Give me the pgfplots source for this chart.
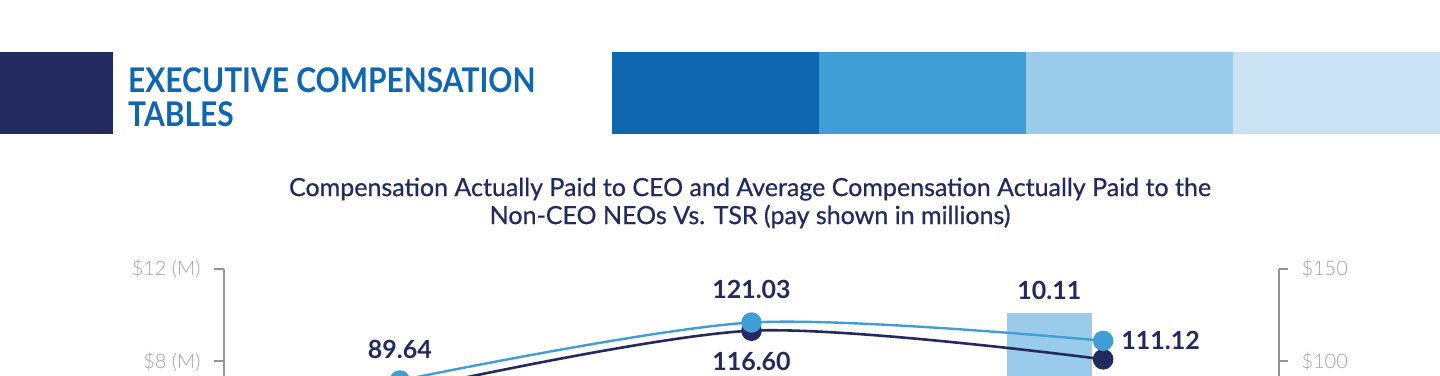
\documentclass[border=0pt]{standalone}
\usepackage{pgfplots}
\pgfplotsset{compat=1.18}
\usepackage{fontspec}
\setmainfont{Lato}
\newfontfamily\latolight{Lato Light}
\newfontfamily\hdrfont[FakeStretch=0.88]{Lato}
\newfontfamily\titlefont[FakeBold=0.6]{Lato}
\definecolor{navy}{HTML}{232A5E}
\definecolor{hdrblue}{HTML}{1067B0}
\definecolor{bA}{HTML}{0F67B0}
\definecolor{bB}{HTML}{419DD6}
\definecolor{bC}{HTML}{9ACBEB}
\definecolor{bD}{HTML}{CBE2F5}
\definecolor{axgray}{HTML}{939393}
\definecolor{tickgray}{HTML}{A3A3A3}
\begin{document}
\begin{tikzpicture}[x=1pt,y=1pt]
\path[use as bounding box] (0pt,0pt) rectangle (1440pt,375pt);
\clip (0pt,0pt) rectangle (1440pt,375pt);
\fill[white] (0pt,0pt) rectangle (1440pt,375pt);
% header band
\fill[navy] (0pt,323pt) rectangle (113pt,241pt);
\fill[bA] (612pt,323pt) rectangle (819pt,241pt);
\fill[bB] (819pt,323pt) rectangle (1026pt,241pt);
\fill[bC] (1026pt,323pt) rectangle (1233pt,241pt);
\fill[bD] (1233pt,323pt) rectangle (1440pt,241pt);
\node[anchor=base west, inner sep=0pt, text=hdrblue, font=\hdrfont\bfseries\fontsize{34}{34}\selectfont] at (128pt,282pt) {EXECUTIVE COMPENSATION};
\node[anchor=base west, inner sep=0pt, text=hdrblue, font=\hdrfont\bfseries\fontsize{34}{34}\selectfont] at (128pt,248pt) {TABLES};
% title
\node[align=center, inner sep=0pt, text=navy, font=\titlefont\fontsize{25}{28}\selectfont] at (750pt,172pt) {Compensation Actually Paid to CEO and Average Compensation Actually Paid to the\\Non-CEO NEOs Vs. TSR (pay shown in millions)};
% left axis with bars
\begin{axis}[at={(224pt,-171pt)}, anchor=south west, scale only axis,
  width=1055pt, height=277pt, xmin=-0.5, xmax=2.5, ymin=0, ymax=12,
  axis x line=none, axis y line*=left,
  axis line style={draw=axgray, line width=2pt, -},
  ytick={0,4,8,12}, yticklabels={\$0 (M),\$4 (M),\$8 (M),\$12 (M)},
  tick align=outside, major tick length=10pt,
  ytick style={draw=axgray, line width=2pt},
  yticklabel style={font=\latolight\fontsize{20}{24}\selectfont, text=tickgray, xshift=-10pt},
  clip=false]
\addplot[ybar, bar width=85pt, fill=bC, draw=none] coordinates {(1.847,10.11)};
\node[text=navy, font=\bfseries\fontsize{25}{30}\selectfont] at (axis cs:1.847,10.11) [anchor=center, yshift=22pt] {10.11};
\end{axis}
% right axis with TSR lines
\begin{axis}[at={(224pt,-171pt)}, anchor=south west, scale only axis,
  width=1055pt, height=277pt, xmin=-0.5, xmax=2.5, ymin=0, ymax=150,
  axis x line=none, axis y line*=right,
  axis line style={draw=axgray, line width=2pt, -},
  ytick={0,50,100,150}, yticklabels={\$0,\$50,\$100,\$150},
  tick align=outside, major tick length=9pt,
  ytick style={draw=axgray, line width=2pt},
  yticklabel style={font=\latolight\fontsize{20}{24}\selectfont, text=tickgray, xshift=10pt},
  clip=false]
\addplot[smooth, line width=2.6pt, color=navy, mark=*, mark size=9pt, mark options={fill=navy, draw=none}] coordinates {(0,83.7) (1,116.60) (2,101.1)};
\addplot[smooth, line width=2.4pt, color=bB, mark=*, mark size=9pt, mark options={fill=bB, draw=none}] coordinates {(0,89.64) (1,121.03) (2,111.12)};
\node[text=navy, font=\bfseries\fontsize{25}{30}\selectfont] at (axis cs:0,89.64) [yshift=31pt] {89.64};
\node[text=navy, font=\bfseries\fontsize{25}{30}\selectfont] at (axis cs:1,121.03) [yshift=33pt] {121.03};
\node[text=navy, font=\bfseries\fontsize{25}{30}\selectfont] at (axis cs:1,116.60) [yshift=-31pt] {116.60};
\node[text=navy, font=\bfseries\fontsize{25}{30}\selectfont, anchor=west, inner sep=0pt] at (axis cs:2,111.12) [xshift=18pt] {111.12};
\node[text=navy, font=\bfseries\fontsize{25}{30}\selectfont] at (axis cs:2,101.1) [yshift=-31pt] {101.10};
\node[text=navy, font=\bfseries\fontsize{25}{30}\selectfont] at (axis cs:0,83.7) [yshift=-31pt] {83.70};
\end{axis}
\end{tikzpicture}
\end{document}
